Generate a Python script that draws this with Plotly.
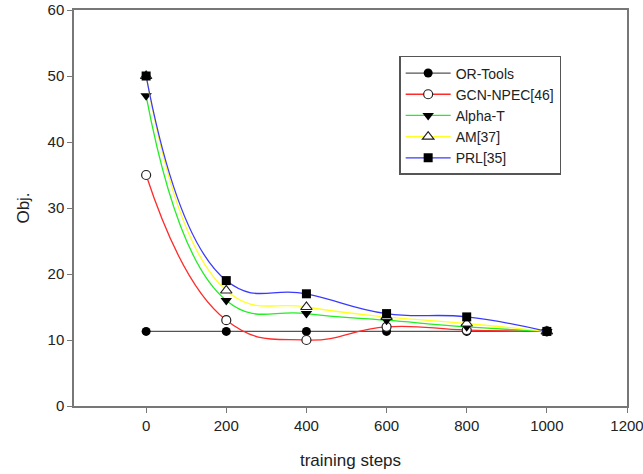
import plotly.graph_objects as go

steps = [0, 200, 400, 600, 800, 1000]
or_tools = [11.3, 11.3, 11.3, 11.3, 11.3, 11.3]
gcn_npec = [35, 13, 10, 12, 11.5, 11.3]
alpha_t = [47, 16, 14, 13, 12, 11.3]
am = [50, 17.5, 15, 13.5, 12.5, 11.3]
prl = [50, 19, 17, 14, 13.5, 11.3]

series = [
    ("OR-Tools", or_tools, "#555555", dict(symbol="circle", color="black", size=9)),
    ("GCN-NPEC[46]", gcn_npec, "#ff2a2a", dict(symbol="circle", color="white", size=9, line=dict(width=1.2, color="#222222"))),
    ("Alpha-T", alpha_t, "#22ee22", dict(symbol="triangle-down", color="black", size=10)),
    ("AM[37]", am, "#ffff22", dict(symbol="triangle-up", color="white", size=10, line=dict(width=1.2, color="#222222"))),
    ("PRL[35]", prl, "#3a3aff", dict(symbol="square", color="black", size=9)),
]

fig = go.Figure()
for name, ys, col, mk in series:
    fig.add_trace(go.Scatter(
        x=steps, y=ys, name=name, mode="lines+markers",
        line=dict(color=col, width=1.3, shape="spline" if name != "OR-Tools" else "linear", smoothing=1.3),
        marker=mk,
    ))

axis_common = dict(
    showline=True, linecolor="#777777", linewidth=1.5, mirror=True, automargin=False,
    ticks="outside", ticklen=5, tickcolor="#777777", showgrid=False, zeroline=False,
    ticklabeloverflow="allow",
    tickfont=dict(family="Liberation Sans, Arial", size=15, color="#222222"),
)

fig.update_layout(
    width=643, height=474,
    margin=dict(l=74, r=16, t=10, b=68),
    paper_bgcolor="white", plot_bgcolor="white",
    font=dict(family="Liberation Sans, Arial", color="#222222"),
    xaxis=dict(range=[-180, 1200], tickvals=[0, 200, 400, 600, 800, 1000, 1200],
               title=dict(text="training steps", font=dict(size=17), standoff=21), **axis_common),
    yaxis=dict(range=[0, 60], tickvals=[0, 10, 20, 30, 40, 50, 60],
               title=dict(text="Obj.", font=dict(size=17), standoff=14), **axis_common),
    legend=dict(x=0.588, y=0.884, xanchor="left", yanchor="top",
                bordercolor="#555555", borderwidth=1.5, bgcolor="white",
                font=dict(size=14, color="#222222"), tracegroupgap=0,
                itemwidth=45),
    showlegend=True,
)

fig.write_html(
    "out.html",
    config={"displayModeBar": False},
    post_script="document.body.style.margin='0';document.body.style.overflow='hidden';",
)
